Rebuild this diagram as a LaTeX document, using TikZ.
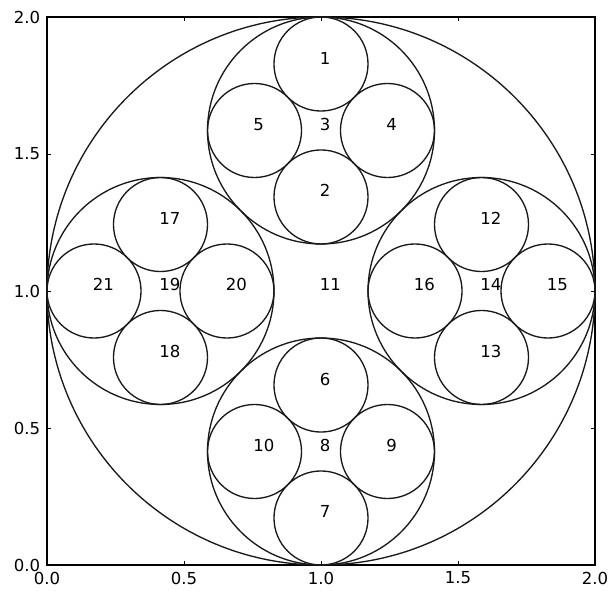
\documentclass[tikz,border=0pt]{standalone}
\usepackage{fontspec}
\setmainfont{DejaVu Sans}
\begin{document}
\begin{tikzpicture}[x=205.5pt,y=205.5pt,
  ring/.style={draw=black!90, line width=1pt},
  lab/.style={anchor=base west, inner sep=0pt, xshift=-1pt, font=\fontsize{12.4pt}{15pt}\selectfont},
  ticklab/.style={inner sep=0pt, font=\fontsize{12.4pt}{15pt}\selectfont},
  tickmark/.style={line width=0.6pt}]
\useasboundingbox (-35.25pt,-18.75pt) rectangle ++(458.25pt,442.5pt);
% axes frame
\draw[line width=0.8pt] (0,0) rectangle (2,2);
\foreach \t/\s in {0/0.0,0.5/0.5,1/1.0,1.5/1.5,2/2.0}{
  \draw[tickmark] (\t,0) -- ++(0,3pt);
  \draw[tickmark] (\t,2) -- ++(0,-3pt);
  \draw[tickmark] (0,\t) -- ++(3pt,0);
  \draw[tickmark] (2,\t) -- ++(-3pt,0);
  \node[ticklab, anchor=north] (xt\s) at ([yshift=-5pt]\t,0) {\s};
  \node[ticklab, anchor=east] (yt\s) at ([xshift=-5pt]0,\t) {\s};
}
% circles: name/x/y/r
\foreach \n/\x/\y/\r in {
  11/1/1/1,
  3/1/1.58579/0.41421, 8/1/0.41421/0.41421, 14/1.58579/1/0.41421, 19/0.41421/1/0.41421,
  1/1/1.82843/0.17157, 2/1/1.34315/0.17157, 4/1.24264/1.58579/0.17157, 5/0.75736/1.58579/0.17157,
  6/1/0.65685/0.17157, 7/1/0.17157/0.17157, 9/1.24264/0.41421/0.17157, 10/0.75736/0.41421/0.17157,
  12/1.58579/1.24264/0.17157, 13/1.58579/0.75736/0.17157, 15/1.82843/1/0.17157, 16/1.34315/1/0.17157,
  17/0.41421/1.24264/0.17157, 18/0.41421/0.75736/0.17157, 20/0.65685/1/0.17157, 21/0.17157/1/0.17157}{
  \coordinate (c\n) at (\x,\y);
  \draw[ring] (c\n) circle (\r);
  \node[lab] (l\n) at (c\n) {\n};
}
\end{tikzpicture}
\end{document}
